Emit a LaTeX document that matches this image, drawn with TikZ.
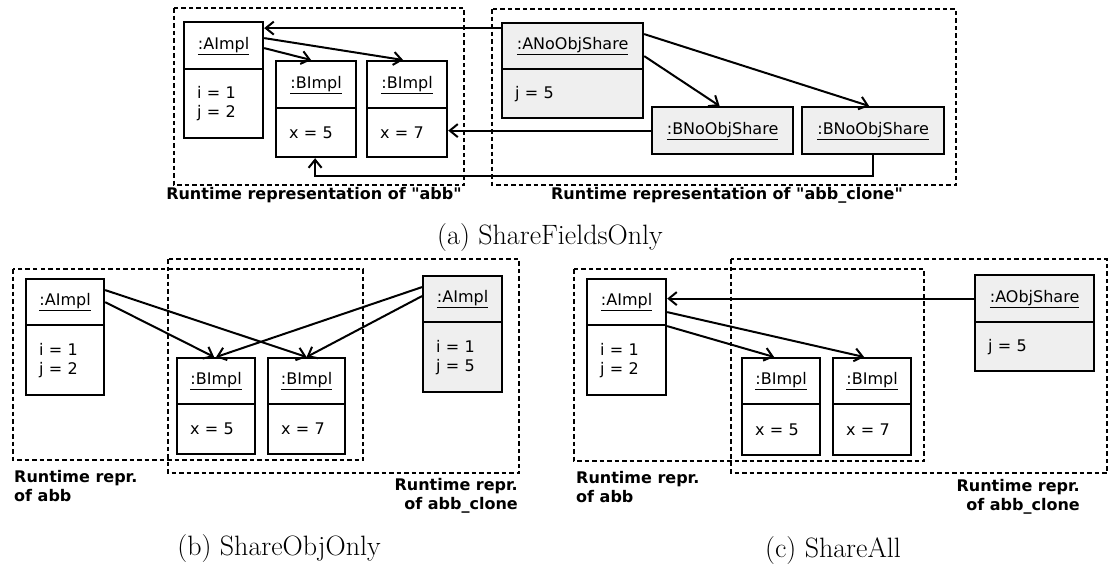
\documentclass[tikz,border=0pt]{standalone}
\usepackage{fontspec}
\newfontfamily\dv{DejaVu Sans}
\usetikzlibrary{arrows.meta}
\definecolor{objgray}{RGB}{239,239,239}
\begin{document}
\begin{tikzpicture}[x=1pt,y=-1pt,
  hdr/.style={draw, line width=2.2pt, inner sep=0pt, font=\dv\fontsize{16}{19}\selectfont, anchor=north west},
  bdy/.style={draw, line width=2.2pt, inner xsep=13pt, inner ysep=0pt, align=left, font=\dv\fontsize{16}{19}\selectfont, anchor=north west},
  grayed/.style={fill=objgray},
  region/.style={draw, dash pattern=on 4.5pt off 3pt, line width=2pt},
  arr/.style={line width=2pt, -{Straight Barb[length=8pt,width=13pt,line width=2pt]}},
  lbl/.style={font=\dv\bfseries\fontsize{16}{19}\selectfont, inner sep=0pt},
  capt/.style={font=\fontsize{28}{32}\selectfont, inner sep=0pt}]
\useasboundingbox (0,0) rectangle (1108,563);

% ---------------- (a) ShareFieldsOnly ----------------
\draw[region] (174,8) rectangle (464,185);
\draw[region] (492,9) rectangle (956,185);

\node[hdr, minimum width=79pt, minimum height=47pt] (aA) at (183,21) {\underline{:AImpl}};
\node[bdy, text width=53pt, minimum height=69pt] (aAb) at (183,68) {i = 1\\j = 2};
\node[hdr, minimum width=80pt, minimum height=47pt] (aB1) at (275,60) {\underline{:BImpl}};
\node[bdy, text width=54pt, minimum height=49pt] (aB1b) at (275,107) {x = 5};
\node[hdr, minimum width=80pt, minimum height=47pt] (aB2) at (366,60) {\underline{:BImpl}};
\node[bdy, text width=54pt, minimum height=49pt] (aB2b) at (366,107) {x = 7};

\node[hdr, grayed, minimum width=141pt, minimum height=46pt] (aN) at (501,22) {\underline{:ANoObjShare}};
\node[bdy, grayed, text width=115pt, minimum height=49pt] (aNb) at (501,68) {j = 5};
\node[hdr, grayed, minimum width=141pt, minimum height=47pt] (aNB1) at (651,106) {\underline{:BNoObjShare}};
\node[hdr, grayed, minimum width=142pt, minimum height=47pt] (aNB2) at (801,106) {\underline{:BNoObjShare}};

\draw[arr] ([yshift=18pt]aN.west) -- ([yshift=18pt]aN.west -| aA.east);
\draw[arr] ([yshift=7.5pt]aA.east) -- ([xshift=-4pt]aB2.north);
\draw[arr] ([yshift=-2.5pt]aA.east) -- ([xshift=-5pt]aB1.north);
\draw[arr] ([yshift=12pt]aN.east) -- ([xshift=-4pt]aNB2.north);
\draw[arr] ([yshift=-10pt]aN.east) -- ([xshift=-3pt]aNB1.north);
\draw[arr] (aNB1.west) -- (aNB1.west -| aB2b.east);
\draw[arr] (aNB2.south) -- ++(0,21) -| ([xshift=-1pt]aB1b.south);

\node[lbl] (aL1) at (314,195) {Runtime representation of "abb"};
\node[lbl] (aL2) at (727,195) {Runtime representation of "abb\_clone"};
\node[capt] (capa) at (550,238) {(a) ShareFieldsOnly};

% ---------------- (b) ShareObjOnly ----------------
\draw[region] (13,269) rectangle (363,460);
\draw[region] (168,259) rectangle (519,473);

\node[hdr, minimum width=78pt, minimum height=46pt] (bA) at (25,278) {\underline{:AImpl}};
\node[bdy, text width=52pt, minimum height=70pt] (bAb) at (25,324) {i = 1\\j = 2};
\node[hdr, minimum width=78pt, minimum height=46pt] (bB1) at (176,357) {\underline{:BImpl}};
\node[bdy, text width=52pt, minimum height=50pt] (bB1b) at (176,403) {x = 5};
\node[hdr, minimum width=77pt, minimum height=46pt] (bB2) at (267,357) {\underline{:BImpl}};
\node[bdy, text width=51pt, minimum height=50pt] (bB2b) at (267,403) {x = 7};
\node[hdr, grayed, minimum width=79pt, minimum height=46pt] (bG) at (422,275) {\underline{:AImpl}};
\node[bdy, grayed, text width=53pt, minimum height=70pt] (bGb) at (422,321) {i = 1\\j = 5};

\draw[arr] ([yshift=12pt]bA.east) -- (bB2.north);
\draw[arr] (bA.east) -- ([xshift=-2pt]bB1.north);
\draw[arr] ([yshift=12pt]bG.west) -- (bB1.north);
\draw[arr] ([yshift=3pt]bG.west) -- (bB2.north);

\node[lbl, align=left, anchor=north west] (bL1) at (14,470) {Runtime repr.\\of abb};
\node[lbl, align=right, anchor=north east] (bL2) at (518,478) {Runtime repr.\\of abb\_clone};
\node[capt] (capb) at (279,549) {(b) ShareObjOnly};

% ---------------- (c) ShareAll ----------------
\draw[region] (574,269) rectangle (924,461);
\draw[region] (731,259) rectangle (1107,473);

\node[hdr, minimum width=79pt, minimum height=46pt] (cA) at (586,278) {\underline{:AImpl}};
\node[bdy, text width=53pt, minimum height=70pt] (cAb) at (586,324) {i = 1\\j = 2};
\node[hdr, minimum width=78pt, minimum height=46pt] (cB1) at (741,357) {\underline{:BImpl}};
\node[bdy, text width=52pt, minimum height=51pt] (cB1b) at (741,403) {x = 5};
\node[hdr, minimum width=78pt, minimum height=46pt] (cB2) at (832,357) {\underline{:BImpl}};
\node[bdy, text width=52pt, minimum height=51pt] (cB2b) at (832,403) {x = 7};
\node[hdr, grayed, minimum width=119pt, minimum height=47pt] (cO) at (974,274) {\underline{:AObjShare}};
\node[bdy, grayed, text width=93pt, minimum height=49pt] (cOb) at (974,321) {j = 5};

\draw[arr] (cO.west) -- (cO.west -| cA.east);
\draw[arr] ([yshift=-10pt]cA.east) -- ([xshift=-8pt]cB2.north);
\draw[arr] ([yshift=-24pt]cA.east) -- ([xshift=-7pt]cB1.north);

\node[lbl, align=left, anchor=north west] (cL1) at (576,471) {Runtime repr.\\of abb};
\node[lbl, align=right, anchor=north east] (cL2) at (1080,479) {Runtime repr.\\of abb\_clone};
\node[capt] (capc) at (833,551) {(c) ShareAll};
\end{tikzpicture}
\end{document}
